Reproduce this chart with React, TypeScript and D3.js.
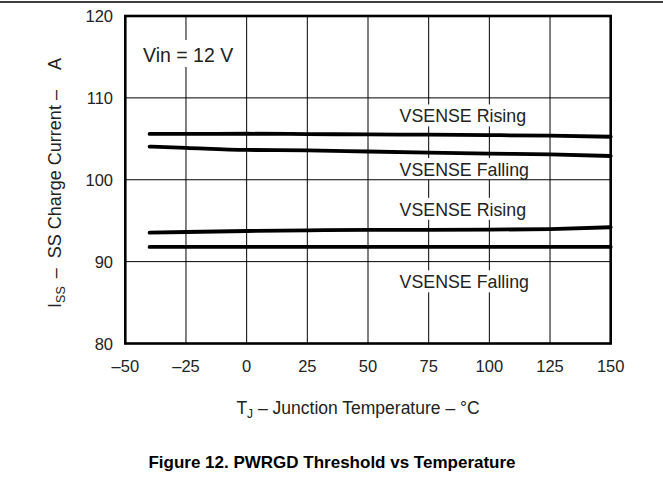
import React from "react";
import * as d3 from "d3";

const temps = [-40, -25, 0, 25, 50, 75, 100, 125, 150];
const risingHigh = [105.6, 105.6, 105.62, 105.58, 105.53, 105.5, 105.45, 105.38, 105.25];
const fallingHigh = [104.05, 103.89, 103.64, 103.6, 103.45, 103.31, 103.19, 103.1, 102.9];
const risingLow = [93.53, 93.62, 93.74, 93.82, 93.88, 93.88, 93.9, 93.98, 94.2];
const fallingLow = [91.8, 91.8, 91.8, 91.8, 91.8, 91.8, 91.8, 91.8, 91.8];
const seriesList = [risingHigh, fallingHigh, risingLow, fallingLow];

const xTicks = [-50, -25, 0, 25, 50, 75, 100, 125, 150];
const yTicks = [80, 90, 100, 110, 120];

const labels = [
  { text: "VSENSE Rising", t: 63, v: 107.0 },
  { text: "VSENSE Falling", t: 63, v: 100.46 },
  { text: "VSENSE Rising", t: 63, v: 95.6 },
  { text: "VSENSE Falling", t: 63, v: 86.74 },
];

const fmt = (n: number) => (n < 0 ? "\u2013" + Math.abs(n) : String(n));

export default function App() {
  const W = 663;
  const H = 501;
  const x = d3.scaleLinear().domain([-50, 150]).range([125.3, 610.7]);
  const y = d3.scaleLinear().domain([80, 120]).range([343.5, 16]);
  const line = d3
    .line<number>()
    .x((_, i) => x(temps[i]))
    .y((d) => y(d))
    .curve(d3.curveMonotoneX);
  const font = "Arial, 'Liberation Sans', sans-serif";

  return (
    <svg
      width={W}
      height={H}
      style={{ position: "absolute", left: 0, top: 0, background: "#fff" }}
      fontFamily={font}
    >
      <rect x={0} y={0} width={W} height={H} fill="#fff" />
      <line x1={0} x2={W} y1={2} y2={2} stroke="#000" strokeWidth={1.5} />
      {xTicks.map((t) => (
        <line key={"gx" + t} x1={x(t)} x2={x(t)} y1={y(120)} y2={y(80)} stroke="#000" strokeWidth={1} />
      ))}
      <rect x={141} y={40} width={98} height={27} fill="#fff" />
      {labels.map((l, i) => (
        <rect
          key={"lr" + i}
          x={x(l.t) - 2}
          y={y(l.v) - 18}
          width={i % 2 ? 136 : 132}
          height={22}
          fill="#fff"
        />
      ))}
      {yTicks.map((t) => (
        <line key={"gy" + t} x1={x(-50)} x2={x(150)} y1={y(t)} y2={y(t)} stroke="#000" strokeWidth={1} />
      ))}
      <text x={143} y={61.5} fontSize={19.5} fill="#222">Vin = 12 V</text>
      {labels.map((l, i) => (
        <text key={"lt" + i} x={x(l.t)} y={y(l.v)} fontSize={17.8} fill="#222">
          {l.text}
        </text>
      ))}
      {seriesList.map((s, i) => (
        <path
          key={"s" + i}
          d={line(s) || ""}
          fill="none"
          stroke="#000"
          strokeWidth={3.8}
          strokeLinecap="round"
        />
      ))}
      <rect
        x={x(-50)}
        y={y(120)}
        width={x(150) - x(-50)}
        height={y(80) - y(120)}
        fill="none"
        stroke="#000"
        strokeWidth={2.6}
      />
      {yTicks.map((t) => (
        <text key={"yl" + t} x={113} y={y(t) + 6} fontSize={16.5} textAnchor="end" fill="#222">
          {t}
        </text>
      ))}
      {xTicks.map((t) => (
        <text key={"xl" + t} x={x(t)} y={372} fontSize={16.5} textAnchor="middle" fill="#222">
          {fmt(t)}
        </text>
      ))}
      <text x={358} y={414} fontSize={17.5} textAnchor="middle" fill="#222">
        T<tspan dy={4} fontSize={12}>J</tspan>
        <tspan dy={-4}> {"\u2013"} Junction Temperature {"\u2013"} °C</tspan>
      </text>
      <text transform="translate(61,183) rotate(-90)" fontSize={18} textAnchor="middle" fill="#222">
        I<tspan dy={4} fontSize={12.5}>SS</tspan>
        <tspan dy={-4} dx={8}>{"\u2013"}</tspan>
        <tspan dx={10}>{"SS Charge Current \u2013"}</tspan>
        <tspan dx={20}>A</tspan>
      </text>
      <text x={332} y={468} fontSize={17} fontWeight="bold" textAnchor="middle" fill="#000">
        Figure 12. PWRGD Threshold vs Temperature
      </text>
    </svg>
  );
}
